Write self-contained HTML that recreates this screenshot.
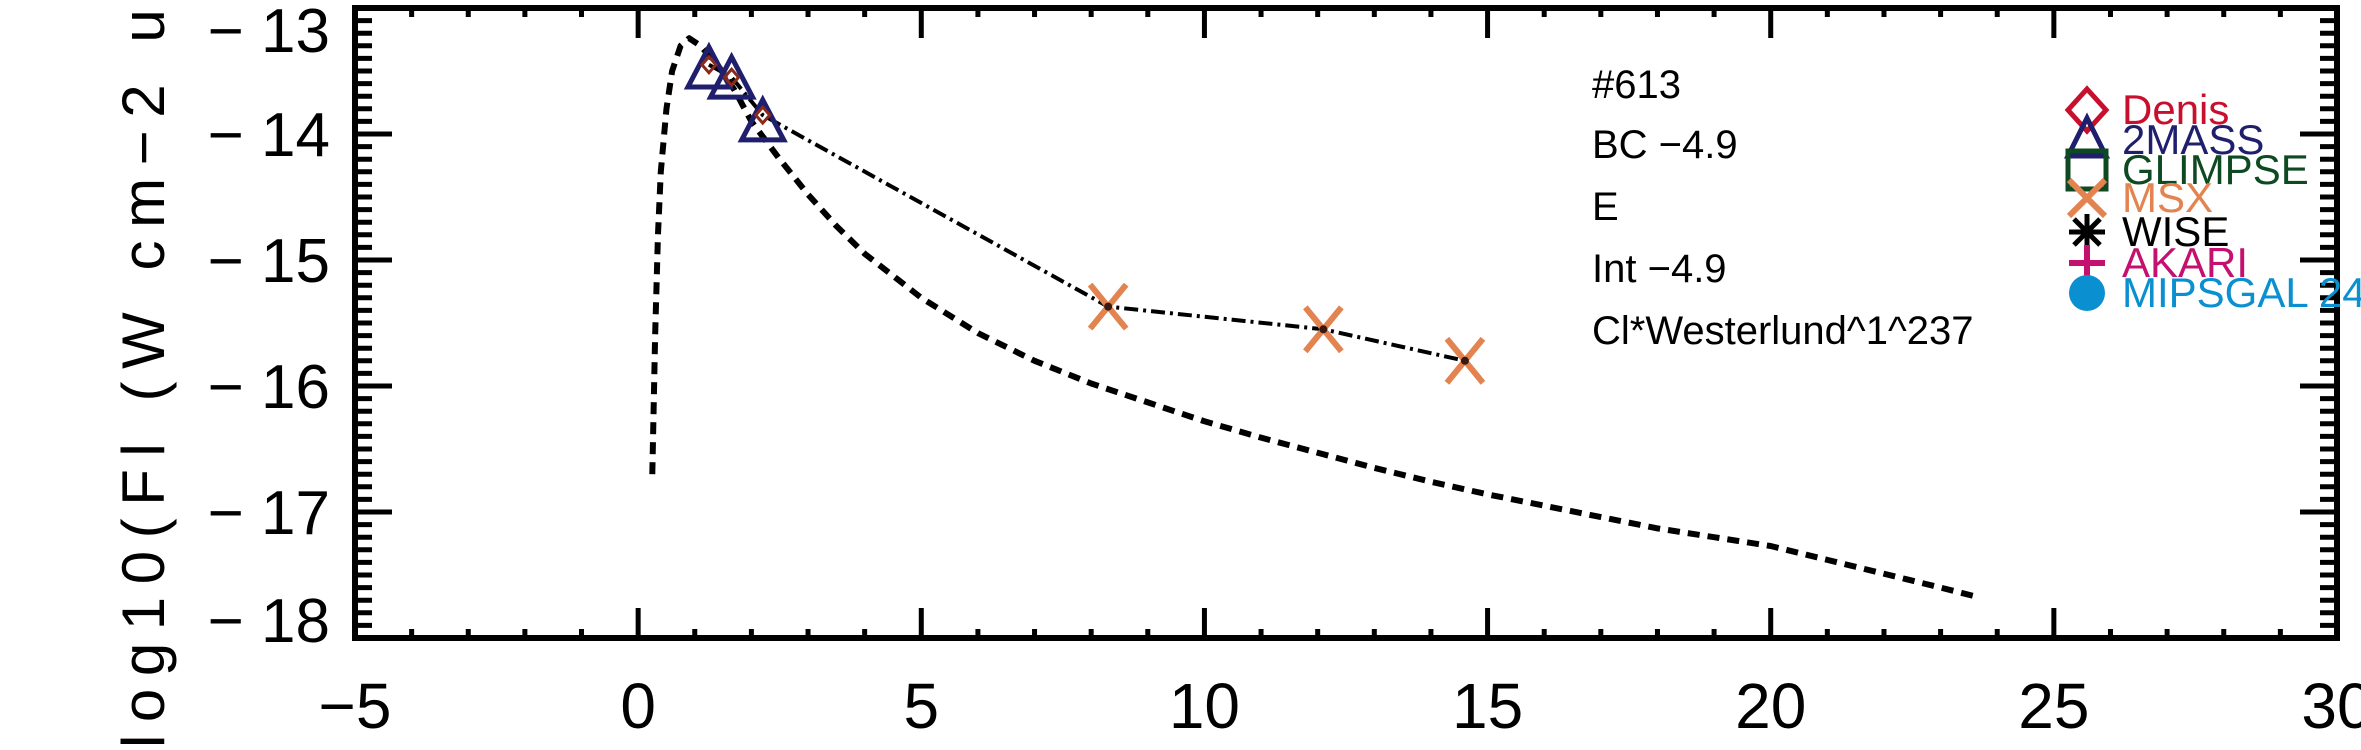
<!DOCTYPE html>
<html><head><meta charset="utf-8"><style>
html,body{margin:0;padding:0;background:#fff;}
svg{display:block;font-family:"Liberation Sans","DejaVu Sans",sans-serif;}
</style></head><body>
<svg id="chart" width="2361" height="750" viewBox="0 0 2361 750" xmlns="http://www.w3.org/2000/svg">
<g id="ticks"></g>
<g id="labels"></g>
<g id="series"></g>
<rect x="355" y="8" width="1982" height="630" fill="none" stroke="#000" stroke-width="6"/>
<text transform="translate(164,748) rotate(-90)" font-size="60" fill="#000" textLength="960" lengthAdjust="spacing">log10(Fl (W cm−2 um−1))</text>
<g font-size="40" fill="#000">
<text x="1592" y="98">#613</text>
<text x="1592" y="158">BC −4.9</text>
<text x="1592" y="220">E</text>
<text x="1592" y="282">Int −4.9</text>
<text x="1592" y="344">Cl*Westerlund^1^237</text>
</g>
<g font-size="42">
<g><path d="M2087,89 L2106,110 L2087,131 L2068,110 Z" fill="none" stroke="#c8102e" stroke-width="5"/><text x="2122" y="124" fill="#c8102e">Denis</text></g>
<g><path d="M2087,118 L2106,156 L2068,156 Z" fill="none" stroke="#1f1f6e" stroke-width="5"/><text x="2122" y="154" fill="#1f1f6e">2MASS</text></g>
<g><rect x="2068" y="151" width="38" height="38" fill="none" stroke="#0d4a22" stroke-width="5"/><text x="2122" y="184" fill="#0d4a22">GLIMPSE</text></g>
<g><path d="M2069,180 L2105,216 M2105,180 L2069,216" stroke="#e3834f" stroke-width="6"/><text x="2122" y="212" fill="#e3834f">MSX</text></g>
<g><path d="M2087,214 V250 M2069,232 H2105 M2074,219 L2100,245 M2100,219 L2074,245" stroke="#000" stroke-width="5"/><text x="2122" y="246" fill="#000">WISE</text></g>
<g><path d="M2087,245 V281 M2069,263 H2105" stroke="#c4106f" stroke-width="6"/><text x="2122" y="277" fill="#c4106f">AKARI</text></g>
<g><circle cx="2087" cy="293" r="18" fill="#0a8fd0"/><text x="2122" y="307" fill="#0a8fd0">MIPSGAL 24</text></g>
</g>
</svg>
<script>
const xTicks=[-5,0,5,10,15,20,25,30];
const yTicks=[-13,-14,-15,-16,-17,-18];
const modelX=[0.25,0.3,0.35,0.4,0.5,0.6,0.75,0.9,1.1,1.4,1.7,2,2.5,3,3.5,4,5,6,7,8,9,10,11,12,13,14,15,16,17,18,19,20,21,22,23,23.7];
const modelY=[-16.7,-15.6,-14.8,-14.3,-13.8,-13.5,-13.3,-13.24,-13.3,-13.45,-13.65,-13.9,-14.2,-14.48,-14.73,-14.95,-15.3,-15.58,-15.8,-15.98,-16.13,-16.28,-16.41,-16.53,-16.65,-16.76,-16.86,-16.95,-17.04,-17.13,-17.2,-17.27,-17.38,-17.49,-17.6,-17.68];
const denisX=[1.25,1.65,2.2];
const denisY=[-13.45,-13.55,-13.85];
const tmassX=[1.25,1.65,2.2];
const tmassY=[-13.5,-13.58,-13.92];
const msxX=[8.3,12.1,14.6];
const msxY=[-15.37,-15.55,-15.8];
const obsX=[1.25,1.65,2.2,8.3,12.1,14.6];
const obsY=[-13.45,-13.55,-13.85,-15.37,-15.55,-15.8];

const NS='http://www.w3.org/2000/svg';
const X0=355,X1=2337,Y0=8,Y1=638,xmin=-5,xmax=30,ymax=-13,ymin=-18;
const sx=v=>X0+(v-xmin)/(xmax-xmin)*(X1-X0);
const sy=v=>Y0+(ymax-v)/(ymax-ymin)*(Y1-Y0);
function mk(t,a,p){const e=document.createElementNS(NS,t);for(const k in a)e.setAttribute(k,a[k]);p.appendChild(e);return e;}
const tg=document.getElementById('ticks'),lg=document.getElementById('labels'),sg=document.getElementById('series');
let d='';
for(let v=xmin;v<=xmax;v+=1){const x=sx(v);const L=(v%5===0)?30:9;d+=`M${x},${Y1} v${-L} M${x},${Y0} v${L} `;}
for(let i=0;i<=50;i++){const v=-13-i*0.1;const y=sy(v);const L=(i%10===0)?37:17;d+=`M${X0},${y} h${L} M${X1},${y} h${-L} `;}
const tp=mk('path',{d:d,stroke:'#000','stroke-width':5,fill:'none'},tg);


xTicks.forEach(v=>{const t=mk('text',{x:sx(v),y:728,'font-size':64,'text-anchor':'middle'},lg);t.textContent=String(v).replace('-','−');

});
yTicks.forEach((v,i)=>{let yc=sy(v);if(i===0)yc+=22;if(i===yTicks.length-1)yc-=18;const t=mk('text',{x:330,y:yc+22,'font-size':62,'text-anchor':'end'},lg);t.textContent=String(v).replace('-','− ');

});
const pts=(xs,ys)=>xs.map((x,i)=>sx(x)+','+sy(ys[i])).join(' ');
const m=mk('polyline',{points:pts(modelX,modelY),fill:'none',stroke:'#000','stroke-width':6,'stroke-dasharray':'12,8','stroke-linejoin':'round'},sg);


const o=mk('polyline',{points:pts(obsX,obsY),fill:'none',stroke:'#000','stroke-width':4,'stroke-dasharray':'14,5,3,5'},sg);


tmassX.forEach((x,i)=>{const cx=sx(x),cy=sy(tmassY[i]);const p=mk('path',{d:`M${cx},${cy-24} L${cx+21},${cy+16} L${cx-21},${cy+16} Z`,fill:'none',stroke:'#1f1f6e','stroke-width':5},sg);

});
denisX.forEach((x,i)=>{const cx=sx(x),cy=sy(denisY[i]);const p=mk('path',{d:`M${cx},${cy-8} L${cx+7},${cy} L${cx},${cy+8} L${cx-7},${cy} Z`,fill:'none',stroke:'#8b2a1a','stroke-width':3},sg);

});
msxX.forEach((x,i)=>{const cx=sx(x),cy=sy(msxY[i]);const p=mk('path',{d:`M${cx-18},${cy-22} L${cx+18},${cy+22} M${cx+18},${cy-22} L${cx-18},${cy+22}`,stroke:'#e3834f','stroke-width':6},sg);


const c=mk('circle',{cx:cx,cy:cy,r:4,fill:'#3a1a10'},sg);

});
</script>
</body></html>
